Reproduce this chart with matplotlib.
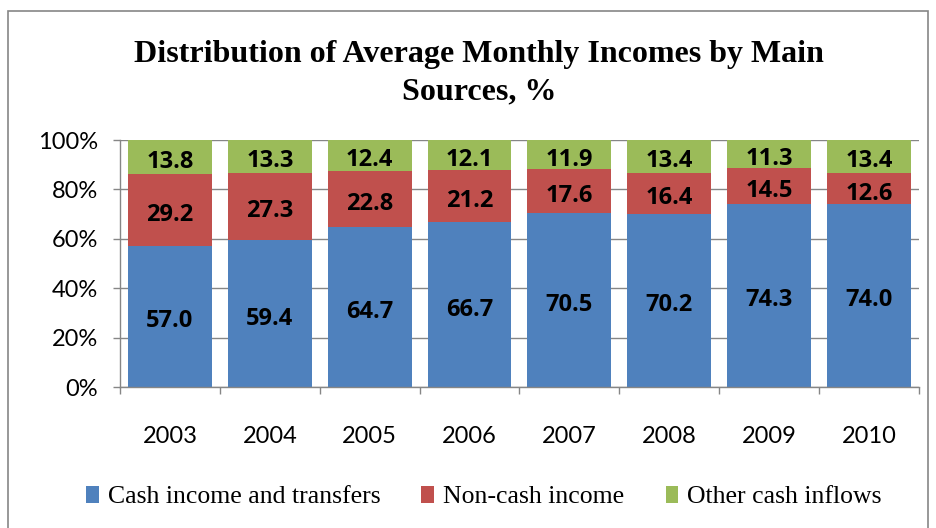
import numpy as np
import matplotlib.pyplot as plt
from matplotlib.patches import Rectangle

years = ['2003', '2004', '2005', '2006', '2007', '2008', '2009', '2010']
cash = [57.0, 59.4, 64.7, 66.7, 70.5, 70.2, 74.3, 74.0]
noncash = [29.2, 27.3, 22.8, 21.2, 17.6, 16.4, 14.5, 12.6]
other = [13.8, 13.3, 12.4, 12.1, 11.9, 13.4, 11.3, 13.4]
labels = ['Cash income and transfers', 'Non-cash income', 'Other cash inflows']
colors = ['#4F81BD', '#C0504D', '#9BBB59']

series = np.array([cash, noncash, other])
shares = series / series.sum(axis=0) * 100   # 100% stacked like excel

fig = plt.figure(figsize=(9.36, 5.28), dpi=100)
ax = fig.add_axes([0.1282, 0.267, 0.8536, 0.4678])

x = np.arange(len(years))
bottom = np.zeros(len(years))
for i in range(3):
	ax.bar(x, shares[i], 0.84, bottom=bottom, color=colors[i], label=labels[i], zorder=2)
	for j in range(len(years)):
		ax.annotate('%.1f' % series[i][j], (x[j], bottom[j] + shares[i][j] / 2),
			xytext=(0, -3.5), textcoords='offset points',
			ha='center', va='center', fontsize=17, fontweight='bold', family='Open Sans', zorder=3)
	bottom = bottom + shares[i]

ax.set_xlim(-0.5, len(years) - 0.5)
ax.set_ylim(0, 100)
ax.set_yticks(np.arange(0, 101, 20))
ax.set_yticklabels(['%d%%' % v for v in range(0, 101, 20)])
ax.yaxis.grid(True, color='#868686', linewidth=1, zorder=0)
ax.set_axisbelow(True)

ax.set_xticks(x)
ax.set_xticklabels(years)
ax.set_xticks(np.arange(-0.5, len(years)), minor=True)
ax.tick_params(axis='x', which='major', length=0, pad=28, labelsize=17)
ax.tick_params(axis='x', which='minor', length=5, color='#868686', width=1)
ax.tick_params(axis='y', length=5, color='#868686', width=1, pad=11, labelsize=17)
for lab in ax.get_xticklabels() + ax.get_yticklabels():
	lab.set_family('Lato')

for s in ['top', 'right']:
	ax.spines[s].set_visible(False)
for s in ['left', 'bottom']:
	ax.spines[s].set_color('#868686')
	ax.spines[s].set_linewidth(1)

fig.text(0.512, 0.862, 'Distribution of Average Monthly Incomes by Main\nSources, %',
	ha='center', va='center', fontsize=23, fontweight='bold', family='Liberation Serif',
	linespacing=1.38)

fig.legend(loc='center', bbox_to_anchor=(0.517, 0.058), ncol=3, frameon=False,
	prop={'family': 'Liberation Serif', 'size': 18.5}, handlelength=0.5, handleheight=0.6,
	handletextpad=0.35, columnspacing=1.6)

# chart border like the excel chart area
fig.patches.append(Rectangle((8 / 936, -0.1), 920 / 936, 1.1 - 11 / 528, transform=fig.transFigure,
	fill=False, edgecolor='#868686', linewidth=1.2))

plt.savefig('out.png', dpi=100)
